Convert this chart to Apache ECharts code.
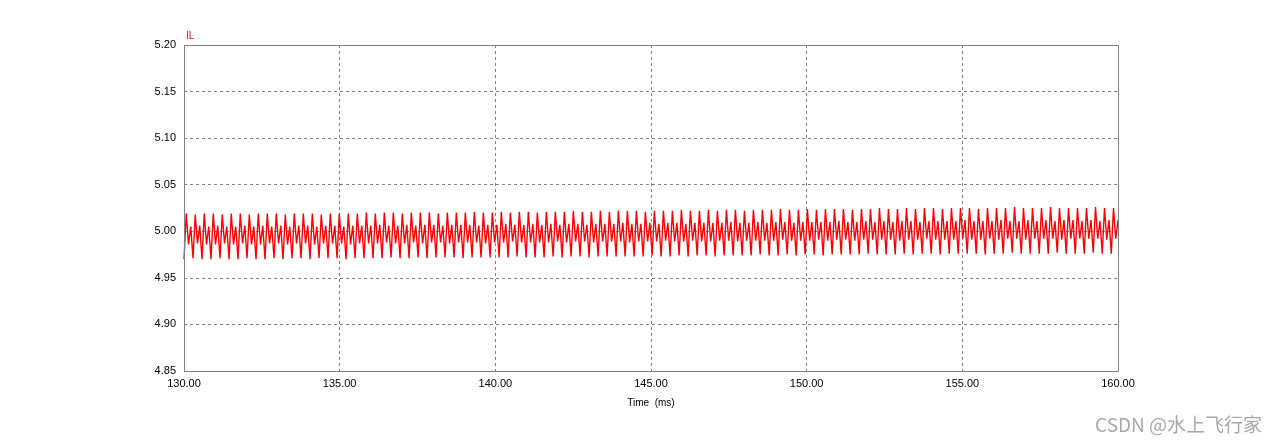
<!DOCTYPE html>
<html><head><meta charset="utf-8">
<script src="https://cdn.jsdelivr.net/npm/echarts@6/dist/echarts.min.js"></script>
<style>html,body{margin:0;padding:0;background:#fff}#c{width:1278px;height:445px}</style>
</head><body><div id="c"></div>
<script>
const seriesName = 'IL';
const xTickLabels = ['130.00','135.00','140.00','145.00','150.00','155.00','160.00'];
const yTickLabels = ['4.85','4.90','4.95','5.00','5.05','5.10','5.15','5.20'];
const timeStart = 130, timeEnd = 160;
// per-ripple-cycle levels
const troughs = [
4.970,4.971,4.970,4.970,4.971,4.970,4.970,4.971,4.970,4.970,
4.971,4.970,4.971,4.971,4.970,4.971,4.971,4.971,4.970,4.971,
4.971,4.971,4.971,4.972,4.971,4.971,4.972,4.971,4.972,4.972,
4.972,4.971,4.972,4.972,4.972,4.972,4.972,4.973,4.972,4.972,
4.972,4.973,4.972,4.973,4.973,4.972,4.973,4.973,4.973,4.973,
4.973,4.973,4.974,4.973,4.973,4.974,4.973,4.974,4.974,4.973,
4.974,4.974,4.974,4.974,4.975,4.974,4.974,4.975,4.974,4.975,
4.975,4.974,4.975,4.975,4.975,4.975,4.976,4.975,4.975,4.975,
4.976,4.975,4.976,4.976,4.975,4.976,4.976,4.976,4.976,4.975,
4.976,4.976,4.977,4.976,4.976,4.976,4.976,4.977,4.976,4.976,
4.976,4.977,4.976,4.976];
const peaks = [
5.019,5.018,5.019,5.019,5.018,5.019,5.019,5.018,5.019,5.019,
5.019,5.018,5.019,5.019,5.019,5.018,5.019,5.019,5.019,5.019,
5.020,5.019,5.020,5.020,5.019,5.020,5.020,5.020,5.019,5.020,
5.020,5.020,5.021,5.020,5.020,5.021,5.020,5.021,5.021,5.020,
5.021,5.021,5.021,5.022,5.021,5.021,5.022,5.021,5.022,5.022,
5.022,5.021,5.022,5.022,5.022,5.023,5.022,5.022,5.023,5.022,
5.023,5.023,5.022,5.023,5.023,5.023,5.024,5.023,5.023,5.024,
5.023,5.024,5.024,5.024,5.023,5.024,5.024,5.025,5.024,5.024,
5.025,5.024,5.025,5.025,5.024,5.025,5.025,5.025,5.024,5.025,
5.025,5.025,5.026,5.025,5.025,5.025,5.026,5.025,5.025,5.025,
5.025,5.026,5.025,5.025];
const midLow = [
4.986,4.987,4.986,4.986,4.987,4.986,4.987,4.986,4.986,4.987,
4.987,4.986,4.987,4.987,4.986,4.987,4.987,4.987,4.986,4.987,
4.987,4.987,4.988,4.987,4.987,4.988,4.987,4.988,4.988,4.987,
4.988,4.988,4.988,4.987,4.988,4.988,4.989,4.988,4.988,4.988,
4.988,4.989,4.988,4.989,4.989,4.988,4.989,4.989,4.989,4.988,
4.989,4.989,4.989,4.990,4.989,4.989,4.990,4.989,4.989,4.990,
4.990,4.989,4.990,4.990,4.990,4.990,4.991,4.990,4.990,4.990,
4.991,4.990,4.991,4.991,4.990,4.991,4.991,4.991,4.991,4.990,
4.991,4.991,4.992,4.991,4.991,4.991,4.992,4.991,4.991,4.992,
4.991,4.992,4.992,4.991,4.992,4.992,4.992,4.991,4.992,4.992,
4.992,4.992,4.991,4.992];
const midHigh = [
5.005,5.006,5.005,5.006,5.005,5.005,5.006,5.005,5.006,5.005,
5.006,5.005,5.006,5.006,5.005,5.006,5.006,5.005,5.006,5.006,
5.006,5.007,5.006,5.006,5.007,5.006,5.007,5.007,5.006,5.007,
5.007,5.007,5.006,5.007,5.007,5.008,5.007,5.007,5.008,5.007,
5.008,5.007,5.008,5.008,5.007,5.008,5.008,5.008,5.009,5.008,
5.008,5.009,5.008,5.009,5.009,5.008,5.009,5.009,5.009,5.009,
5.010,5.009,5.009,5.010,5.009,5.010,5.010,5.009,5.010,5.010,
5.010,5.010,5.011,5.010,5.010,5.011,5.010,5.011,5.010,5.011,
5.011,5.010,5.011,5.011,5.011,5.011,5.012,5.011,5.011,5.011,
5.012,5.011,5.011,5.012,5.011,5.012,5.011,5.012,5.012,5.011,
5.012,5.011,5.012,5.012];

// interleave the cycle levels into a uniformly sampled waveform
const levels = [];
for (let i = 0; i < peaks.length; i++) {
  levels.push(troughs[i], peaks[i], midLow[i], midHigh[i]);
}
const dt = (timeEnd - timeStart) / (levels.length - 1);
const data = levels.map((v, k) => [timeStart + k * dt, v]);

const chart = echarts.init(document.getElementById('c'), null, {renderer: 'canvas'});
const font = 'Liberation Sans, Arial, sans-serif';
chart.setOption({
  animation: false,
  backgroundColor: '#ffffff',
  title: {
    text: seriesName, left: 181, top: 26,
    textStyle: {color: '#ff0000', fontSize: 10, fontWeight: 'normal', fontFamily: font}
  },
  grid: {left: 184, right: 160, top: 45, bottom: 74, show: false},
  xAxis: {
    type: 'value', min: 130, max: 160, interval: 5,
    name: 'Time  (ms)', nameLocation: 'middle', nameGap: 27,
    nameTextStyle: {color: '#000', fontSize: 10, fontFamily: font},
    axisLine: {show: false}, axisTick: {show: false},
    axisLabel: {color: '#000', fontSize: 11, fontFamily: font, margin: 7,
      formatter: v => xTickLabels[Math.round((v - 130) / 5)] || ''},
    splitLine: {show: true, lineStyle: {color: '#808080', type: [3, 3], width: 1}}
  },
  yAxis: {
    type: 'value', min: 4.85, max: 5.20, interval: 0.05,
    axisLine: {show: false}, axisTick: {show: false},
    axisLabel: {color: '#000', fontSize: 11, fontFamily: font, margin: 8,
      formatter: v => yTickLabels[Math.round((v - 4.85) / 0.05)] || ''},
    splitLine: {show: true, lineStyle: {color: '#808080', type: [3, 3], width: 1}}
  },
  graphic: [{
    type: 'rect', z: 100, silent: true,
    shape: {x: 184.5, y: 45.5, width: 934, height: 326},
    style: {fill: 'none', stroke: '#808080', lineWidth: 1}
  }, {
    type: 'text', right: 16, top: 415,
    style: {text: 'CSDN @水上飞行家', fill: '#a8a8a8', font: '19px "Noto Sans CJK SC", sans-serif'}
  }],
  series: [{
    type: 'line', name: seriesName, data: data, showSymbol: false, symbol: 'none',
    sampling: null, lineStyle: {color: '#ff0000', width: 1.4}, silent: true
  }]
});
</script></body></html>
